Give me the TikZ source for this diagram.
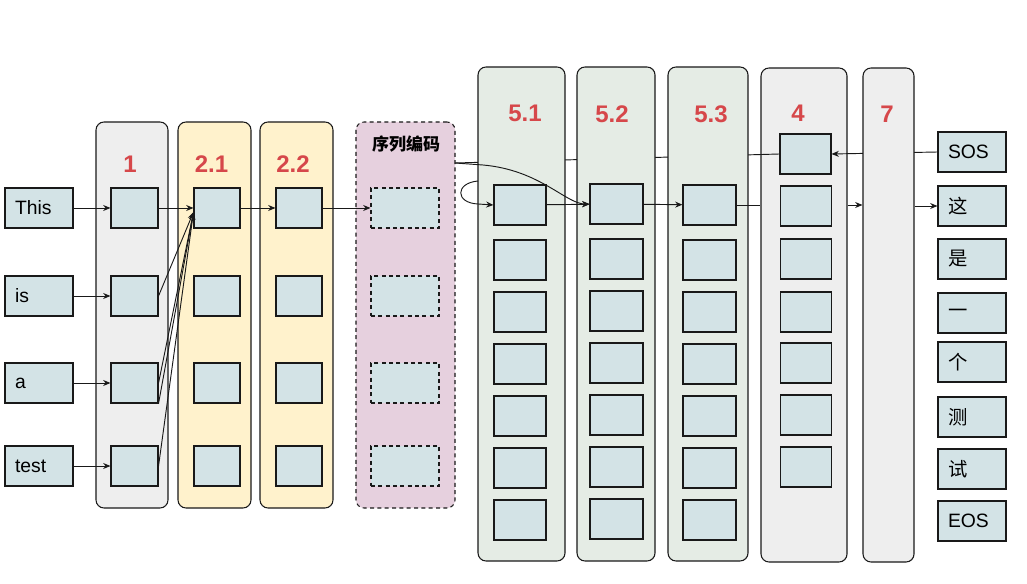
\documentclass[tikz,border=0pt]{standalone}
\usepackage{fontspec}
\setmainfont{Liberation Sans}
\newfontfamily\cjk{Noto Sans CJK SC}
\usetikzlibrary{arrows.meta, positioning, calc}
\definecolor{colgray}{RGB}{238,238,238}
\definecolor{colyellow}{RGB}{255,242,204}
\definecolor{colpink}{RGB}{230,208,222}
\definecolor{colmix}{RGB}{229,236,229}
\definecolor{cellblue}{RGB}{211,227,230}
\definecolor{numred}{RGB}{214,71,74}

\begin{document}
\begin{tikzpicture}[
    x=0.75pt, y=-0.75pt,
    column/.style={
        rectangle,
        rounded corners=6pt,
        draw=black!90,
        line width=0.8pt,
        inner sep=0pt
    },
    cell/.style={
        rectangle,
        draw=black!90,
        fill=cellblue,
        line width=0.8pt,
        minimum height=30pt,
        inner sep=0pt
    },
    word/.style={
        cell,
        minimum width=51pt,
        text width=36pt,
        inner xsep=7.5pt,
        align=left,
        font=\fontsize{14.5}{17}\selectfont
    },
    numlbl/.style={text=numred, font=\bfseries\fontsize{18}{21}\selectfont},
    plain/.style={line width=0.7pt, draw=black!90},
    link/.style={plain, -{Stealth[length=5.5pt, width=4.5pt]}}
]
\useasboundingbox (0,0) rectangle (1027,584);

% encoder side
\node[column, fill=colgray, minimum width=54pt, minimum height=289.5pt] (c1) at (132,315) {};
\node[column, fill=colyellow, minimum width=54.75pt, minimum height=289.5pt] (c21) at (214.5,315) {};
\node[column, fill=colyellow, minimum width=54.75pt, minimum height=289.5pt] (c22) at (296.5,315) {};
\node[column, dashed, dash pattern=on 3pt off 2.5pt, fill=colpink, minimum width=74.25pt, minimum height=289.5pt] (cseq) at (405.5,315) {};
\coordinate (sqout) at (455,163);

\node[numlbl] (n1) at (130,164) {1};
\node[numlbl] (n21) at (211.5,164) {2.1};
\node[numlbl] (n22) at (293,164) {2.2};
\node[font=\cjk\bfseries\fontsize{12.75}{15}\selectfont] (nseq) at (406,144) {序列编码};

\foreach \y [count=\i] in {208,296,383,466} {
    \node[cell, minimum width=35.25pt] (ea\i) at (134.5,\y) {};
    \node[cell, minimum width=34.5pt] (eb\i) at (217,\y) {};
    \node[cell, minimum width=34.5pt] (ec\i) at (299,\y) {};
    \node[cell, dashed, dash pattern=on 3pt off 2.5pt, minimum width=51pt] (sq\i) at (405,\y) {};
}

\node[word] (w1) at (39,208) {This};
\node[word] (w2) at (39,296) {is};
\node[word] (w3) at (39,383) {a};
\node[word] (w4) at (39,466) {test};

\foreach \i in {1,...,4}
    \draw[link] (w\i.east) -- (ea\i.west);
\draw[link] (ea1) -- (eb1);
\foreach \i in {2,3,4}
    \draw[link] (ea\i.east) -- (eb1.190);
\draw[link] (ea3.south east) -- (eb1.190);
\draw[link] (eb1) -- (ec1);
\draw[link] (ec1) -- (sq1);

% target words
\foreach \y/\t in {152/SOS, 206/{\cjk 这}, 259/{\cjk 是}, 313/{\cjk 一}, 362/{\cjk 个}, 417/{\cjk 测}, 469/{\cjk 试}, 521/EOS}
    \node[word] (o\y) at (972,\y) {\t};

% decoder column 4
\node[column, fill=colgray, minimum width=64.5pt, minimum height=370.5pt] (cq) at (804,315) {};
\node[numlbl] (n4) at (798,113) {4};
\node[cell, minimum width=38.25pt] (q1) at (805.5,154) {};
\foreach \y [count=\i from 2] in {206,259,312,363,415,467}
    \node[cell, minimum width=38.25pt] (q\i) at (806,\y) {};

% lines that pass behind the next columns
\draw[plain] (q1.west) -- (sqout);
\draw[link] (o152.west) -- (q1.east);

% decoder columns 5.x
\node[column, fill=colmix, minimum width=65.25pt, minimum height=370.5pt] (c51) at (521.5,314) {};
\node[column, fill=colmix, minimum width=58.5pt, minimum height=370.5pt] (c52) at (616,314) {};
\node[column, fill=colmix, minimum width=60pt, minimum height=370.5pt] (c53) at (708,314) {};
\node[numlbl] (n51) at (525,113) {5.1};
\node[numlbl] (n52) at (612,114) {5.2};
\node[numlbl] (n53) at (711,114) {5.3};
\coordinate (loopin) at (478,181);

\foreach \y [count=\i] in {205,260,312,364,416,468,520} {
    \node[cell, minimum width=39pt] (da\i) at (520,\y) {};
    \node[cell, minimum width=39.75pt] (dc\i) at (709.5,\y) {};
}
\foreach \y [count=\i] in {204,259,311,363,415,467,519}
    \node[cell, minimum width=39.75pt] (db\i) at (616.5,\y) {};

% column 7
\node[column, fill=colgray, minimum width=38.25pt, minimum height=370.5pt] (c7) at (888.5,315) {};
\node[numlbl] (n7) at (887,114) {7};

% front connectors
\draw[link] (sqout) -- (483,165) .. controls (540,170) and (566,204) .. (db1.west);
\draw[link] (loopin) .. controls (455,183) and (455,203) .. (478,204) -- (da1.west);
\draw[link] (da1) -- (db1);
\draw[link] (db1) -- (dc1);
\draw[plain] (dc1.east) -- (dc1.east -| cq.west);
\draw[link] (dc1.east -| cq.east) -- (dc1.east -| c7.west);
\draw[link] (o206.west -| c7.east) -- (o206.west);
\end{tikzpicture}
\end{document}
